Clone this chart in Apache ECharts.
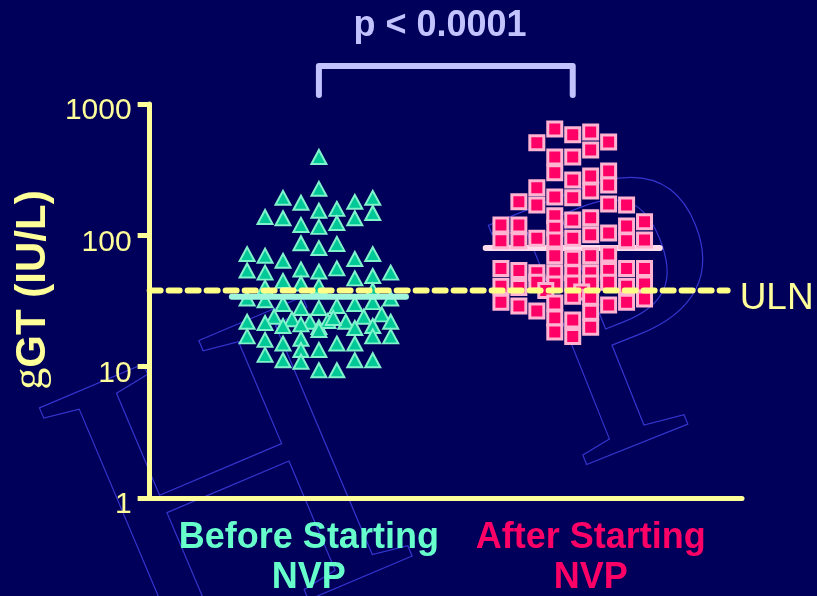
<!DOCTYPE html>
<html>
<head>
<meta charset="utf-8">
<script src="https://cdn.jsdelivr.net/npm/echarts@6/dist/echarts.min.js"></script>
<style>
  html, body { margin: 0; padding: 0; background: #00005a; }
  #chart { width: 817px; height: 596px; }
</style>
</head>
<body>
<div id="chart"></div>
<script>
// Group labels along the x axis
const groupNames = ['Before Starting', 'After Starting'];
const groupSuffix = 'NVP';
// Log scale ticks on the y axis
const yTicks = [1, 10, 100, 1000];
// Upper limit of normal and group medians (IU/L)
const ulnValue = 38;
const medianBefore = 34;
const medianAfter = 80;
const pValueText = 'p < 0.0001';

// Each point: [column offset within the group, gGT in IU/L]
const beforeNVP = [
  [0, 395], [0, 226], [-2, 193], [-1, 177], [1, 159], [2, 180], [3, 193],
  [-3, 138], [-2, 135], [0, 154], [2, 135], [3, 148], [1, 124], [-1, 120], [0, 116],
  [-1, 87], [0, 80], [1, 86],
  [-4, 72], [-3, 70], [-2, 64], [2, 66], [3, 72],
  [-4, 54], [-3, 52], [-1, 55], [0, 53], [1, 56], [-2, 45], [-1, 43], [2, 47], [3, 49], [4, 52],
  [0, 41], [-3, 40], [3, 38], [-4, 33], [4, 33],
  [-3, 32], [-2, 30], [-1, 28], [0, 28], [1, 29], [2, 30], [3, 31],
  [-2.5, 24], [3.5, 25], [2.5, 24],
  [-4, 22], [-3, 21.5], [-1.5, 23], [-0.5, 22], [-1, 21], [-2, 20.4], [0, 20], [0.5, 22.3],
  [1.5, 22], [2, 19.7], [3, 20.4], [4, 22], [0.8, 23.5],
  [-4, 17], [-3, 16], [-2, 15], [-1, 16.3], [0, 19], [1, 15], [2, 15], [3, 17], [4, 17],
  [-1, 13.4], [0, 13.4], [-3, 12.3], [-2, 11.2], [2, 11.2], [3, 11.2], [-1, 10.9], [0, 9.4], [1, 9.4]
];

const afterNVP = [
  [-1, 646], [0, 582], [1, 613], [2, 514], [-2, 506],
  [-1, 395], [0, 395], [1, 447],
  [-1, 299], [0, 264], [1, 283], [2, 309], [2, 242], [-2, 230], [1, 218], [-1, 196], [0, 193],
  [-3, 180], [-2, 170], [2, 173], [3, 170],
  [-1, 141], [0, 131], [1, 136], [3, 118], [4, 127], [-4, 120], [-3, 120], [-1, 113], [2, 104],
  [-4, 91], [-3, 91], [-2, 95], [-1, 92], [0, 95], [1, 101], [3, 91], [4, 92],
  [-1, 70], [0, 67], [1, 70], [2, 72],
  [-4, 56], [-3, 54], [-2, 52], [-1, 52], [0, 52], [1, 52], [2, 54], [3, 56], [4, 56],
  [-4, 41], [-3, 40], [-2, 44], [-1, 42.6], [0, 43.4], [1, 43.4], [2, 44], [3, 41], [4, 42.6],
  [-1.5, 38], [0.5, 37],
  [-4, 31], [-3, 29], [-2, 26.5], [-1, 30.6], [0, 34.4], [1, 33.8], [2, 29.5], [3, 31], [4, 32.8],
  [-1, 23.5], [0, 22.7], [1, 26], [-1, 18.4], [0, 17], [1, 20]
];

// Layout of the horizontal scale (one unit = one column of markers)
const X_MAX = 33;
const centers = [9.43, 23.57];
const labelCenters = [8.87, 24.57];
const medianHalf = 4.85;
const ulnEnd = 32.2;

const YELLOW = '#ffff99';
const TEAL = '#66ffcc';
const PINK = '#ff0066';
const LAVENDER = '#c2c2ff';
const SANS = '"Liberation Sans", Arial, sans-serif';

const chart = echarts.init(document.getElementById('chart'), null, { renderer: 'canvas' });

const option = {
  backgroundColor: '#00005a',
  animation: false,
  grid: { left: 147, right: 75, top: 104, bottom: 98, containLabel: false },
  xAxis: {
    type: 'value', min: 0, max: X_MAX,
    splitLine: { show: false },
    axisLine: { show: true, onZero: false, lineStyle: { color: YELLOW, width: 5 } },
    axisTick: { show: false },
    axisLabel: {
      show: true,
      customValues: labelCenters,
      margin: 20,
      formatter: function (v) {
        const i = v < X_MAX / 2 ? 0 : 1;
        const k = i === 0 ? 'a' : 'b';
        return '{' + k + '|' + groupNames[i] + '}\n{' + k + '|' + groupSuffix + '}';
      },
      rich: {
        a: { color: TEAL, fontSize: 36, fontWeight: 'bold', fontFamily: SANS, lineHeight: 40 },
        b: { color: PINK, fontSize: 36, fontWeight: 'bold', fontFamily: SANS, lineHeight: 40 }
      }
    }
  },
  yAxis: {
    type: 'log', logBase: 10, min: yTicks[0], max: yTicks[yTicks.length - 1],
    name: '{g|g}{t|GT (IU/L)}',
    nameLocation: 'middle',
    nameRotate: 90,
    nameGap: 82,
    nameTextStyle: {
      padding: [0, 0, 0, 22],
      rich: {
        g: { color: YELLOW, fontSize: 44, fontFamily: '"Liberation Serif", serif', padding: [0, 0, 6, 0] },
        t: { color: YELLOW, fontSize: 42, fontWeight: 'bold', fontFamily: SANS }
      }
    },
    splitLine: { show: false },
    minorTick: { show: false },
    axisLine: { show: true, lineStyle: { color: YELLOW, width: 5 } },
    axisTick: { show: true, length: 12, lineStyle: { color: YELLOW, width: 5 } },
    axisLabel: {
      color: YELLOW, fontSize: 30, fontFamily: SANS, margin: 18,
      verticalAlign: 'top', lineHeight: 14,
      formatter: v => String(v)
    }
  },
  series: [
    {
      name: 'Median after', type: 'line', z: 1, symbol: 'none', silent: true,
      data: [[centers[1] - medianHalf, medianAfter], [centers[1] + medianHalf, medianAfter]],
      lineStyle: { color: '#ffdcec', width: 6, cap: 'round' }
    },
    {
      name: 'Before Starting NVP', type: 'scatter', z: 3,
      symbol: 'triangle', symbolSize: [15, 14],
      data: beforeNVP.map(p => [centers[0] + p[0], p[1]]),
      itemStyle: { color: '#00c896', borderColor: '#80f2cc', borderWidth: 2, opacity: 1 }
    },
    {
      name: 'After Starting NVP', type: 'scatter', z: 3,
      symbol: 'rect', symbolSize: 14,
      data: afterNVP.map(p => [centers[1] + p[0], p[1]]),
      itemStyle: { color: '#ff0066', borderColor: '#ffb4d2', borderWidth: 3, opacity: 1 }
    },
    {
      name: 'Median before', type: 'line', z: 5, symbol: 'none', silent: true,
      data: [[centers[0] - medianHalf, medianBefore], [centers[0] + medianHalf, medianBefore]],
      lineStyle: { color: '#9ff5dc', width: 6, cap: 'round' }
    },
    {
      name: 'ULN', type: 'line', z: 10, symbol: 'none', silent: true,
      data: [[0, ulnValue], [ulnEnd, ulnValue]],
      lineStyle: { color: '#ffff88', width: 6, type: [11, 8], cap: 'round' },
      endLabel: {
        show: true, formatter: 'ULN', color: YELLOW, fontSize: 37,
        fontFamily: SANS, distance: 12, offset: [0, 8]
      }
    }
  ]
};

chart.setOption(option);

// Significance bracket over the two groups, plus faint serif watermark
const leftX = chart.convertToPixel({ gridIndex: 0 }, [centers[0], 10])[0];
const rightX = chart.convertToPixel({ gridIndex: 0 }, [centers[1], 10])[0];
const bracketTop = 66, bracketBottom = 95;

chart.setOption({
  graphic: [
    {
      type: 'text', z: -10, x: 10, y: 370, rotation: 0.40,
      style: { text: 'H', font: '400 430px "Liberation Serif", serif', fill: 'transparent', stroke: '#3535d0', lineWidth: 1.2 }
    },
    {
      type: 'text', z: -10, x: 462, y: 190, rotation: 0.38,
      style: { text: 'P', font: '400 395px "Liberation Serif", serif', fill: 'transparent', stroke: '#3535d0', lineWidth: 1.2 }
    },
    {
      type: 'polyline', z: 20,
      shape: { points: [[leftX, bracketBottom], [leftX, bracketTop], [rightX, bracketTop], [rightX, bracketBottom]] },
      style: { stroke: LAVENDER, lineWidth: 6, lineCap: 'round', lineJoin: 'round', fill: null }
    },
    {
      type: 'text', z: 20, x: 440, y: 26,
      style: {
        text: pValueText, font: 'bold 36px ' + SANS, fill: LAVENDER,
        align: 'center', verticalAlign: 'middle',
        textShadowColor: '#000010', textShadowOffsetX: 2, textShadowOffsetY: 2, textShadowBlur: 0
      }
    }
  ]
});
</script>
</body>
</html>
